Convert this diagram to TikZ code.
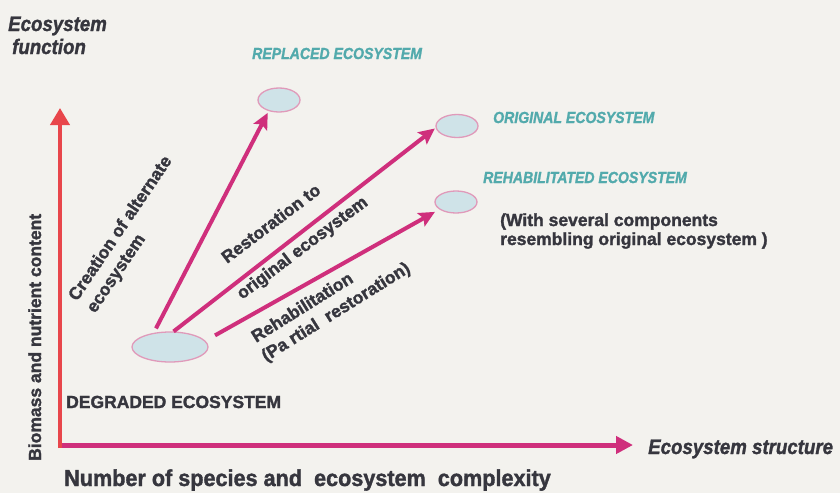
\documentclass[tikz,border=0pt]{standalone}
\usepackage{fontspec}
\setmainfont{Liberation Sans}[BoldFeatures={FakeBold=1.6},BoldItalicFeatures={FakeBold=1.4}]
\usetikzlibrary{arrows.meta,shapes.geometric}
\definecolor{bgc}{HTML}{F3F2EE}
\definecolor{darkc}{HTML}{36363E}
\definecolor{tealc}{HTML}{52AAAC}
\definecolor{magc}{HTML}{CF2F7C}
\definecolor{redc}{HTML}{E8464B}
\definecolor{ellfill}{HTML}{CFE3E8}
\definecolor{elldraw}{HTML}{E09ABA}
\begin{document}
\begin{tikzpicture}[x=1pt,y=-1pt,
  eco/.style={ellipse, draw=elldraw, fill=ellfill, line width=1.3pt, inner sep=0pt},
  lbl/.style={text=darkc, font=\fontsize{17.5}{17.5}\selectfont\bfseries, inner sep=0pt, anchor=base west},
  ttl/.style={text=darkc, font=\fontsize{21}{21}\selectfont\bfseries\itshape, inner sep=0pt, anchor=base west},
  tl/.style={text=tealc, font=\fontsize{16}{16}\selectfont\bfseries\itshape, inner sep=0pt, anchor=base west},
  arr/.style={draw=magc, line width=4pt, -{Stealth[length=16pt,width=15pt,inset=3pt]}}
]
\fill[bgc] (0,0) rectangle (840,493);
\useasboundingbox (0,0) rectangle (840,493);

% axes
\coordinate (O) at (60,448);
\coordinate (ytip) at (60,108);
\coordinate (xstart) at (62,445);
\coordinate (xtip) at (633,445);
\draw[redc, line width=4pt, -{Triangle[length=17pt,width=19pt]}] (O) -- (ytip);
\draw[magc, line width=5pt, -{Triangle[length=17pt,width=17pt]}] (xstart) -- (xtip);

% ecosystems
\node[eco, minimum width=42pt, minimum height=24pt] (repl) at (279,100) {};
\node[eco, minimum width=42pt, minimum height=23pt] (orig) at (457,126) {};
\node[eco, minimum width=42pt, minimum height=22pt] (reha) at (456,202) {};
\node[eco, minimum width=76pt, minimum height=30pt] (degr) at (170,347) {};

% connectors
\draw[arr, shorten <=5pt, shorten >=2pt] (degr.139) -- (repl.227);
\draw[arr, shorten >=1pt] (degr.77) -- (orig.185);
\draw[arr, shorten <=11pt, shorten >=5pt] (degr.10) -- (reha.204);

% titles
\node[ttl] (t1) at (8,31) {\scalebox{0.89}[1]{Ecosystem}};
\node[ttl] (t2) at (12,54) {\scalebox{0.89}[1]{function}};
\node[ttl] (t3) at (648,454) {\scalebox{0.89}[1]{Ecosystem structure}};

% teal labels
\node[tl] (lrepl) at (252,59) {\scalebox{0.88}[1]{REPLACED ECOSYSTEM}};
\node[tl] (lorig) at (493,123) {\scalebox{0.88}[1]{ORIGINAL ECOSYSTEM}};
\node[tl] (lreha) at (483,183) {\scalebox{0.88}[1]{REHABILITATED ECOSYSTEM}};

% dark labels
\node[lbl] (w1) at (500,226) {(With several components};
\node[lbl] (w2) at (500,245) {resembling original ecosystem )};
\node[lbl] (ldeg) at (66,408) {DEGRADED ECOSYSTEM};
\node[lbl, rotate=90] (ybio) at (41,461) {Biomass and nutrient content};
\node[text=darkc, font=\fontsize{23}{23}\selectfont\bfseries, inner sep=0pt, anchor=base west] (xnum) at (64,486)
  {\scalebox{0.94}[1]{Number of species and\ \ ecosystem\ \ complexity}};

% arrow labels
\node[lbl, rotate=56] (c1) at (77,302) {Creation of alternate};
\node[lbl, rotate=56] (c2) at (95,314) {ecosystem};
\node[lbl, rotate=37] (r1) at (227,264) {Restoration to};
\node[lbl, rotate=37] (r2) at (242,300) {original ecosystem};
\node[lbl, rotate=32] (h1) at (256,343) {Rehabilitation};
\node[lbl, rotate=32] (h2) at (266,362) {(Pa rtial\ \ restoration)};
\end{tikzpicture}
\end{document}
